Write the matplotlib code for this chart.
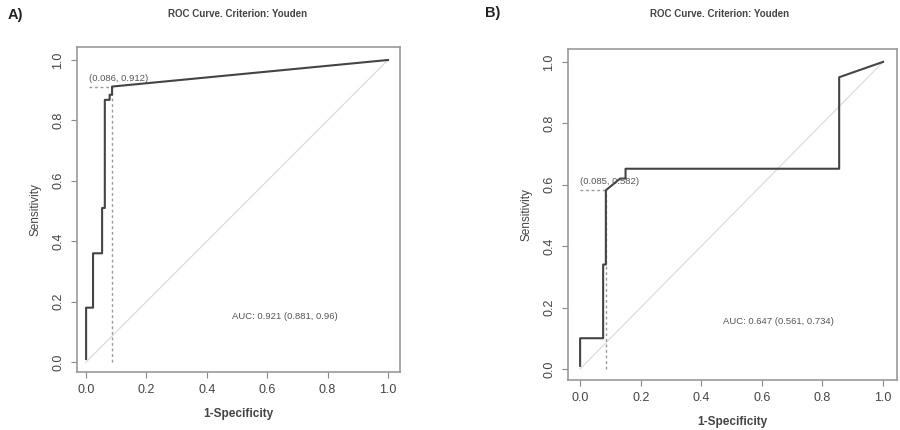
import matplotlib
matplotlib.use("Agg")
import matplotlib.pyplot as plt

plt.rcParams['font.family'] = ['Liberation Sans', 'DejaVu Sans']

# Panel A ROC curve vertices
fpr_a = [0.0, 0.0, 0.023, 0.023, 0.053, 0.053, 0.062, 0.062, 0.078, 0.078, 0.086, 0.086, 1.0]
tpr_a = [0.01, 0.18, 0.18, 0.36, 0.36, 0.51, 0.51, 0.868, 0.868, 0.885, 0.885, 0.912, 1.0]
cut_a = (0.086, 0.912)
auc_a = "AUC: 0.921 (0.881, 0.96)"

# Panel B ROC curve vertices
fpr_b = [0.0, 0.0, 0.076, 0.076, 0.085, 0.085, 0.132, 0.15, 0.15, 0.855, 0.855, 1.0]
tpr_b = [0.01, 0.10, 0.10, 0.34, 0.34, 0.582, 0.62, 0.62, 0.652, 0.652, 0.95, 1.0]
cut_b = (0.085, 0.582)
auc_b = "AUC: 0.647 (0.561, 0.734)"

ticks = [0.0, 0.2, 0.4, 0.6, 0.8, 1.0]
tick_labels = ["0.0", "0.2", "0.4", "0.6", "0.8", "1.0"]
title = "ROC Curve. Criterion: Youden"

fig = plt.figure(figsize=(9, 4.3), dpi=100)
axA = fig.add_axes([0.0856, 0.1349, 0.3589, 0.7558])
axB = fig.add_axes([0.6311, 0.1163, 0.3656, 0.7698])

txt = '#444444'
def style(ax, xlim, ylim, auc, auc_pos, cut, fpr, tpr, lab_pos):
    ax.plot([0, 1], [0, 1], color='#dddddd', lw=0.9, zorder=1)
    ax.plot([xlim[0] + 0.04, cut[0]], [cut[1], cut[1]], color='#999999', lw=1.0,
            ls=(0, (2, 2)), zorder=2)
    ax.plot([cut[0], cut[0]], [0, cut[1]], color='#999999', lw=1.0,
            ls=(0, (2, 2)), zorder=2)
    ax.plot(fpr, tpr, color='#444444', lw=1.5, zorder=3)
    ax.text(lab_pos[0], lab_pos[1], "(%.3f, %.3f)" % cut, fontsize=6.8, color='#555555',
            ha='left', va='bottom')
    ax.text(auc_pos[0], auc_pos[1], auc, fontsize=6.8, color='#555555', ha='center', va='center')
    ax.set_xlim(*xlim)
    ax.set_ylim(*ylim)
    ax.set_xticks(ticks)
    ax.set_xticklabels(tick_labels, fontsize=9, color=txt)
    ax.set_yticks(ticks)
    ax.set_yticklabels(tick_labels, fontsize=9, color=txt, rotation=90, va='center')
    ax.tick_params(direction='out', length=4, width=0.8, color='#888888', pad=5)
    for s in ax.spines.values():
        s.set_color('#999999')
        s.set_linewidth(1.2)
    ax.set_xlabel("1-Specificity", fontsize=8.5, color=txt, fontweight='bold', labelpad=8)
    ax.set_ylabel("Sensitivity", fontsize=8.5, color=txt, labelpad=8)

style(axA, (-0.03, 1.04), (-0.033, 1.043), auc_a, (0.66, 0.15), cut_a, fpr_a, tpr_a, (0.01, 0.925))
style(axB, (-0.04, 1.046), (-0.036, 1.042), auc_b, (0.655, 0.155), cut_b, fpr_b, tpr_b, (0.0, 0.595))

fig.text(238/900, 1 - 14/430, title, ha='center', va='center', fontsize=7, fontweight='bold', color='#444444')
fig.text(720/900, 1 - 14/430, title, ha='center', va='center', fontsize=7, fontweight='bold', color='#444444')
fig.text(8/900, 1 - 15/430, "A)", ha='left', va='center', fontsize=10.5, fontweight='bold', color='#222222')
fig.text(485/900, 1 - 13/430, "B)", ha='left', va='center', fontsize=10.5, fontweight='bold', color='#222222')

fig.savefig("out.png", dpi=100)
